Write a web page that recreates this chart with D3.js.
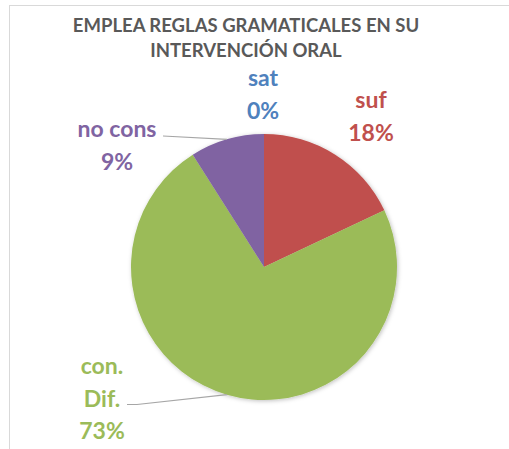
<!DOCTYPE html>
<head>
<meta charset="utf-8">
<script src="https://d3js.org/d3.v7.min.js"></script>
<style>
  body { margin: 0; background: #fff; }
  text { font-family: Lato, "Open Sans", sans-serif; font-weight: bold; }
</style>
</head>
<body>
<div id="chart"></div>
<script>
// data
var categories = ["sat", "suf", "con. Dif.", "no cons"];
var values = [0, 18, 73, 9];
var labelLines = [["sat", "0%"], ["suf", "18%"], ["con.", "Dif.", "73%"], ["no cons", "9%"]];
var titleLines = ["EMPLEA REGLAS GRAMATICALES EN SU", "INTERVENCIÓN ORAL"];

var colors = ["#4f81bd", "#c0504d", "#9bbb59", "#8064a2"];

var width = 509, height = 449;
var cx = 264, cy = 267, radius = 133;

// first baseline of each label (centered x), relative to pie center
var labelPos = [
  {x: -1, y: -181},
  {x: 107, y: -159},
  {x: -162, y: 107},
  {x: -147, y: -130}
];
// leader line start (label side), relative to pie center; null = no line
var leaderStart = [null, null, [[-137, 137.5], [-127, 137.5]], [[-101, -131]]];

var svg = d3.select("#chart").append("svg")
  .attr("width", width)
  .attr("height", height);

// chart border
svg.append("rect")
  .attr("x", 9.5).attr("y", 5.5)
  .attr("width", 520).attr("height", 460)
  .attr("fill", "#fff")
  .attr("stroke", "#d9d9d9");

var defs = svg.append("defs");
var f = defs.append("filter").attr("id", "shadow")
  .attr("x", "-10%").attr("y", "-10%").attr("width", "120%").attr("height", "120%");
f.append("feDropShadow")
  .attr("dx", 1).attr("dy", 1).attr("stdDeviation", 2)
  .attr("flood-color", "#000").attr("flood-opacity", 0.25);

// title
svg.append("text")
  .attr("text-anchor", "middle")
  .attr("fill", "#595959")
  .style("font-size", "18.5px")
  .selectAll("tspan")
  .data(titleLines)
  .join("tspan")
  .attr("x", 246)
  .attr("y", function(d, i) { return 32 + i * 24.5; })
  .text(function(d) { return d; });

var pie = d3.pie().sort(null).value(function(d) { return d; });
var arcs = pie(values);
var arc = d3.arc().innerRadius(0).outerRadius(radius);

var g = svg.append("g").attr("transform", "translate(" + cx + "," + cy + ")");

g.append("g").attr("filter", "url(#shadow)")
  .selectAll("path")
  .data(arcs)
  .join("path")
  .attr("d", arc)
  .attr("fill", function(d, i) { return colors[i]; });

// leader lines
arcs.forEach(function(d, i) {
  if (!leaderStart[i] || d.value === 0) return;
  var a = (d.startAngle + d.endAngle) / 2;
  var end = [Math.sin(a) * radius, -Math.cos(a) * radius];
  var pts = leaderStart[i].concat([end]);
  g.append("path")
    .attr("d", d3.line()(pts))
    .attr("fill", "none")
    .attr("stroke", "#a6a6a6")
    .attr("stroke-width", 1.2);
});

// labels
var lineH = 32.7;
labelLines.forEach(function(lines, i) {
  var p = labelPos[i];
  g.append("text")
    .attr("text-anchor", "middle")
    .attr("fill", colors[i])
    .style("font-size", "23px")
    .selectAll("tspan")
    .data(lines)
    .join("tspan")
    .attr("x", p.x)
    .attr("y", function(d, k) { return p.y + k * lineH; })
    .text(function(d) { return d; });
});
</script>
</body>
